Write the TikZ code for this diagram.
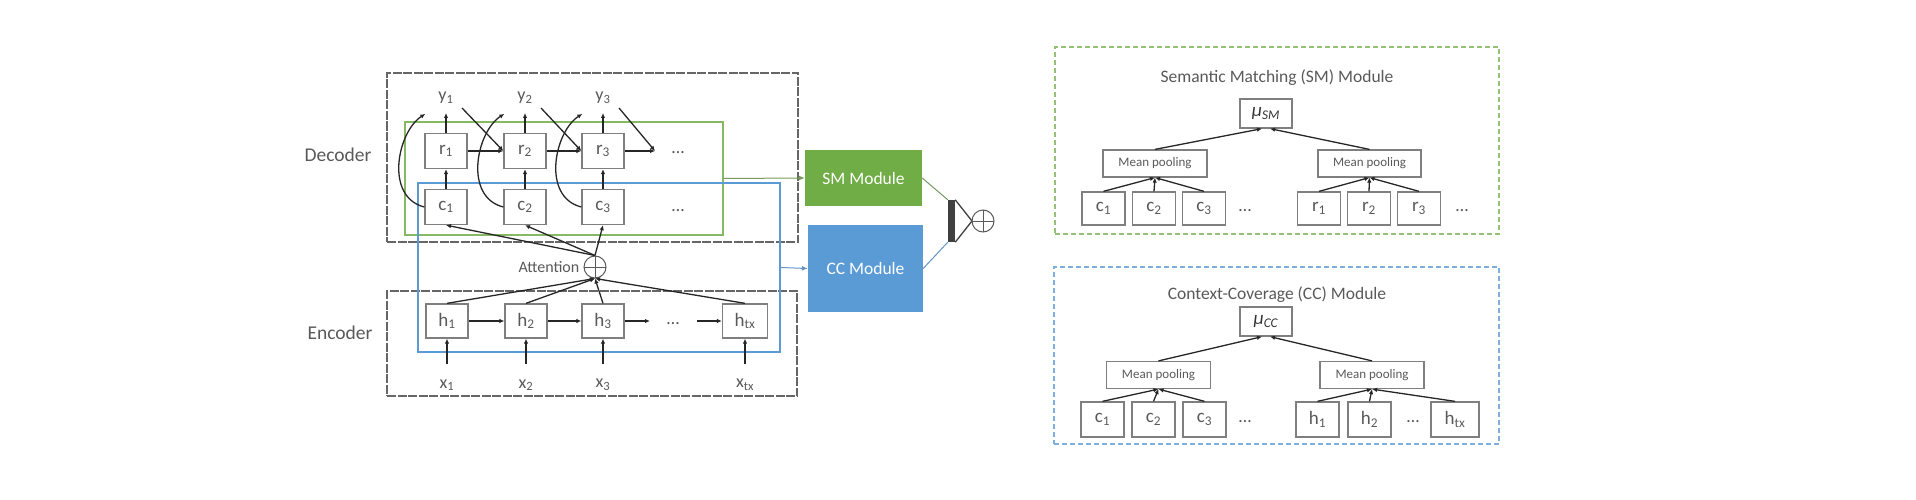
\documentclass[tikz,border=0pt]{standalone}
\usepackage{fontspec}
\setmainfont{Carlito}
\usetikzlibrary{arrows.meta,positioning,calc}
\definecolor{smGreen}{HTML}{70AD47}
\definecolor{ccBlue}{HTML}{5B9BD5}
\definecolor{boxGray}{HTML}{7F7F7F}
\definecolor{textGray}{HTML}{595959}
\newcommand{\mux}[1]{\textit{μ}\textsubscript{\textit{#1}}}
\tikzset{
  arr/.style={-{Latex[length=5pt,width=4.5pt]}, line width=1.3pt, black!85},
  feed/.style={-{Latex[length=6pt,width=5pt]}, line width=1pt, draw=#1},
  cell/.style={draw=boxGray, line width=1.3pt, minimum width=42pt, minimum height=35pt,
    inner sep=0pt, font=\fontsize{19}{19}\selectfont, text=textGray},
  lbl/.style={font=\fontsize{18}{18}\selectfont, text=textGray, inner sep=1pt},
  frame/.style={draw=black!60, line width=1.1pt, dash pattern=on 9pt off 1.5pt, inner sep=0pt},
  wrap/.style={draw=#1, line width=1.2pt, inner sep=0pt},
  module/.style={fill=#1, text=white, font=\fontsize{17.5}{17.5}\selectfont, inner sep=0pt},
  panel/.style={draw=#1, line width=1.2pt, dash pattern=on 5pt off 3pt, inner sep=0pt},
  pool/.style={draw=boxGray, line width=1.2pt, minimum width=104pt, minimum height=27pt,
    font=\fontsize{13}{13}\selectfont, text=textGray, inner sep=0pt},
  title/.style={font=\fontsize{17.5}{17.5}\selectfont, text=textGray},
  plus/.style={circle, draw=textGray, line width=1pt, minimum size=22pt, inner sep=0pt,
    path picture={\draw[textGray, line width=1pt]
      (path picture bounding box.north) -- (path picture bounding box.south)
      (path picture bounding box.west) -- (path picture bounding box.east);}}
}

\begin{document}
\begin{tikzpicture}[x=1pt,y=-1pt]
  \useasboundingbox (0,0) rectangle (1916,500);

  % frames of the seq2seq model
  \node[frame, minimum width=411pt, minimum height=169pt] (dec) at (592.5,157.5) {};
  \node[frame, minimum width=410pt, minimum height=105pt] (enc) at (592,343.5) {};
  \node[wrap=smGreen!85, minimum width=318pt, minimum height=113pt] (grn) at (564,178.5) {};
  \node[wrap=ccBlue, minimum width=362pt, minimum height=169pt] (blu) at (599,267.5) {};
  \node[lbl, font=\fontsize{19.5}{19.5}\selectfont] (declbl) at (338,155) {Decoder};
  \node[lbl, font=\fontsize{19.5}{19.5}\selectfont] (enclbl) at (340,333) {Encoder};

  % decoder
  \foreach \i/\x in {1/446,2/525,3/603}{
    \node[cell] (r\i) at (\x,151) {r\textsubscript{\i}};
    \node[cell] (c\i) at (\x,207) {c\textsubscript{\i}};
    \node[lbl] (y\i) at (\x,98) {y\textsubscript{\i}};
    \coordinate (yt\i) at (\x,113);
    \coordinate (yd\i) at ($(y\i)+(16,10)$);
    \coordinate (ct\i) at ($(r\i.north west)+(1,-19)$);
    \draw[arr] (c\i) -- (r\i);
    \draw[arr] (r\i) -- (yt\i);
    \draw[arr] (c\i.west) .. controls +(-40,-10) and +(-28,18) .. (ct\i);
  }
  \coordinate (rn) at (655,151);
  \node[lbl] (rdots) at (678,153) {\dots};
  \node[lbl] (cdots) at (678,211) {\dots};
  \draw[arr] (r1) -- (r2);
  \draw[arr] (r2) -- (r3);
  \draw[arr] (r3.east) -- (rn);
  \draw[arr] (yd1) -- (r2.west);
  \draw[arr] (yd2) -- (r3.west);
  \draw[arr] (yd3) -- (rn);

  % attention
  \node[plus] (att) at (595,267) {};
  \node[lbl, font=\fontsize{16}{16}\selectfont, left=3pt of att] (attlbl) {Attention};
  \foreach \i in {1,2,3}
    \draw[arr] (att.north) -- (c\i.south);

  % encoder
  \foreach \i/\x in {1/447,2/526,3/603}{
    \node[cell, minimum height=34pt] (h\i) at (\x,321) {h\textsubscript{\i}};
    \node[lbl] (x\i) at (\x,385) {x\textsubscript{\i}};
    \draw[arr] ($(x\i.north)+(0,-14)$) -- (h\i);
  }
  \node[cell, minimum height=34pt, minimum width=45pt] (htx) at (745,321) {h\textsubscript{tx}};
  \node[lbl] (xtx) at (745,385) {x\textsubscript{tx}};
  \draw[arr] ($(xtx.north)+(0,-14)$) -- (htx);
  \coordinate (hn) at (650,321);
  \coordinate (hp) at (697,321);
  \node[lbl] (hdots) at (673,324) {\dots};
  \draw[arr] (h1) -- (h2);
  \draw[arr] (h2) -- (h3);
  \draw[arr] (h3.east) -- (hn);
  \draw[arr] (hp) -- (htx.west);
  \foreach \n in {h1,h2,h3,htx}
    \draw[arr] (\n.north) -- (att.south);

  % modules and combination
  \node[module=smGreen, minimum width=117pt, minimum height=56pt] (sm) at (863.5,178) {SM Module};
  \node[module=ccBlue, minimum width=115pt, minimum height=87pt] (cc) at (865.5,268.5) {CC Module};
  \draw[feed=smGreen!60!gray] (grn.east) -- (sm.west);
  \draw[feed=ccBlue!80!gray] (blu.east) -- (cc.west);
  \node[fill=black!75, minimum width=7pt, minimum height=42pt, inner sep=0pt] (gate) at (951.5,221) {};
  \coordinate (gtip) at (972,221);
  \draw[line width=1.3pt, black!75] (gate.north east) -- (gtip) -- (gate.south east);
  \node[plus] (sum) at (983,221) {};
  \draw[line width=1pt, smGreen!60!gray] (sm.east) -- (gate.north west);
  \draw[line width=1pt, ccBlue!80!gray] (cc.east) -- (gate.south west);

  % SM module panel
  \node[panel=smGreen!75, minimum width=444pt, minimum height=187pt] (smp) at (1277,140.5) {};
  \node[title] (smt) at (1277,78) {Semantic Matching (SM) Module};
  \node[cell, minimum width=52pt, minimum height=29pt, text=black!80] (musm) at (1266,113.5) {\mux{SM}};
  \node[pool] (smpl) at (1155,163.5) {Mean pooling};
  \node[pool, minimum width=103pt] (smpr) at (1369.5,163.5) {Mean pooling};
  \foreach \i/\x in {1/1103.5,2/1154,3/1204}
    \node[cell, minimum width=43pt, minimum height=33pt] (smc\i) at (\x,208.5) {c\textsubscript{\i}};
  \foreach \i/\x in {1/1319,2/1369,3/1419}
    \node[cell, minimum width=43pt, minimum height=33pt] (smr\i) at (\x,208.5) {r\textsubscript{\i}};
  \node[lbl] (smcdots) at (1245,211) {\dots};
  \node[lbl] (smrdots) at (1462,211) {\dots};
  \foreach \i in {1,2,3}{
    \draw[arr] (smc\i.north) -- (smpl.south);
    \draw[arr] (smr\i.north) -- (smpr.south);
  }
  \draw[arr] (smpl.north) -- ([xshift=-4pt]musm.south);
  \draw[arr] (smpr.north) -- ([xshift=4pt]musm.south);

  % CC module panel
  \node[panel=ccBlue!80, minimum width=445pt, minimum height=177pt] (ccp) at (1276.5,355.5) {};
  \node[title] (cct) at (1277,295) {Context-Coverage (CC) Module};
  \node[cell, minimum width=52pt, minimum height=29pt, text=black!80] (mucc) at (1266,321.5) {\mux{CC}};
  \node[pool] (ccpl) at (1158.5,375) {Mean pooling};
  \node[pool] (ccpr) at (1372,375) {Mean pooling};
  \foreach \i/\x in {1/1102.5,2/1153.5,3/1204.5}
    \node[cell, minimum width=43pt, minimum height=35pt] (ccc\i) at (\x,419.5) {c\textsubscript{\i}};
  \foreach \i/\x in {1/1317.5,2/1369.5}
    \node[cell, minimum width=43pt, minimum height=35pt] (cch\i) at (\x,419.5) {h\textsubscript{\i}};
  \node[cell, minimum width=48pt, minimum height=35pt] (cchtx) at (1455,419.5) {h\textsubscript{tx}};
  \node[lbl] (cccdots) at (1245,422) {\dots};
  \node[lbl] (cchdots) at (1413,422) {\dots};
  \foreach \i in {1,2,3}
    \draw[arr] (ccc\i.north) -- (ccpl.south);
  \foreach \n in {cch1,cch2,cchtx}
    \draw[arr] (\n.north) -- (ccpr.south);
  \draw[arr] (ccpl.north) -- ([xshift=-4pt]mucc.south);
  \draw[arr] (ccpr.north) -- ([xshift=4pt]mucc.south);
\end{tikzpicture}
\end{document}
